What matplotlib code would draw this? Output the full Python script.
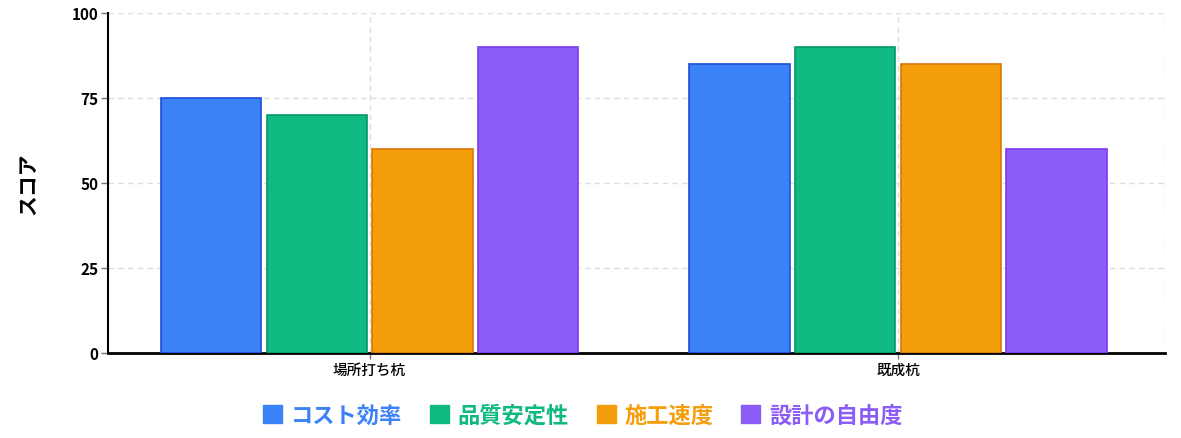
import matplotlib.pyplot as plt
import numpy as np
from matplotlib.patches import Patch

plt.rcParams['font.family'] = ['Noto Sans CJK JP', 'DejaVu Sans']

# data
categories = ['場所打ち杭', '既成杭']
series = ['コスト効率', '品質安定性', '施工速度', '設計の自由度']
values = [
    [75, 85],
    [70, 90],
    [60, 85],
    [90, 60],
]
colors = ['#3b82f6', '#10b981', '#f59e0b', '#8b5cf6']
edges = ['#1d4ed8', '#059669', '#d97706', '#7c3aed']

fig = plt.figure(figsize=(11.81, 4.39), dpi=100)
ax = fig.add_axes([108/1181, 1-354/439, (1165-108)/1181, (354-14)/439])

x = np.arange(len(categories))
w = 0.19
for i, s in enumerate(series):
    ax.bar(x + (i - 1.5)*0.2, values[i], w, color=colors[i], edgecolor=edges[i],
           linewidth=1.2, label=s, zorder=3)

ax.set_xlim(-0.495, 1.505)
ax.set_ylim(0, 100)
ax.set_yticks([0, 25, 50, 75, 100])
ax.set_xticks(x)
ax.set_xticklabels(categories, fontsize=10.5, fontweight='medium')
for t in ax.get_yticklabels():
    t.set_fontweight('bold')
    t.set_fontsize(11)
ax.tick_params(axis='y', color='#777777', length=5, width=1, pad=2)
ax.tick_params(axis='x', color='#777777', length=4, width=1, pad=3)

ax.grid(True, linestyle=(0, (4, 3)), color='#dddddd', linewidth=1, zorder=0)
ax.spines['top'].set_visible(False)
ax.spines['right'].set_visible(False)
ax.spines['left'].set_linewidth(1.5)
ax.spines['bottom'].set_linewidth(2)
ax.axvline(1.505, linestyle=(0, (4, 3)), color='#dddddd', linewidth=1, zorder=0)

ax.set_ylabel('スコア', fontsize=15, fontweight='bold', labelpad=24)

handles = [Patch(facecolor=c, edgecolor=c) for c in colors]
leg = fig.legend(handles, series, loc='center', bbox_to_anchor=(583/1181, 1-416/439),
                 ncol=4, frameon=False, handlelength=0.85, handleheight=0.85,
                 handletextpad=0.4, columnspacing=1.25,
                 prop={'size': 16, 'weight': 'bold'}, labelcolor=colors)

plt.savefig('out.png', dpi=100)
